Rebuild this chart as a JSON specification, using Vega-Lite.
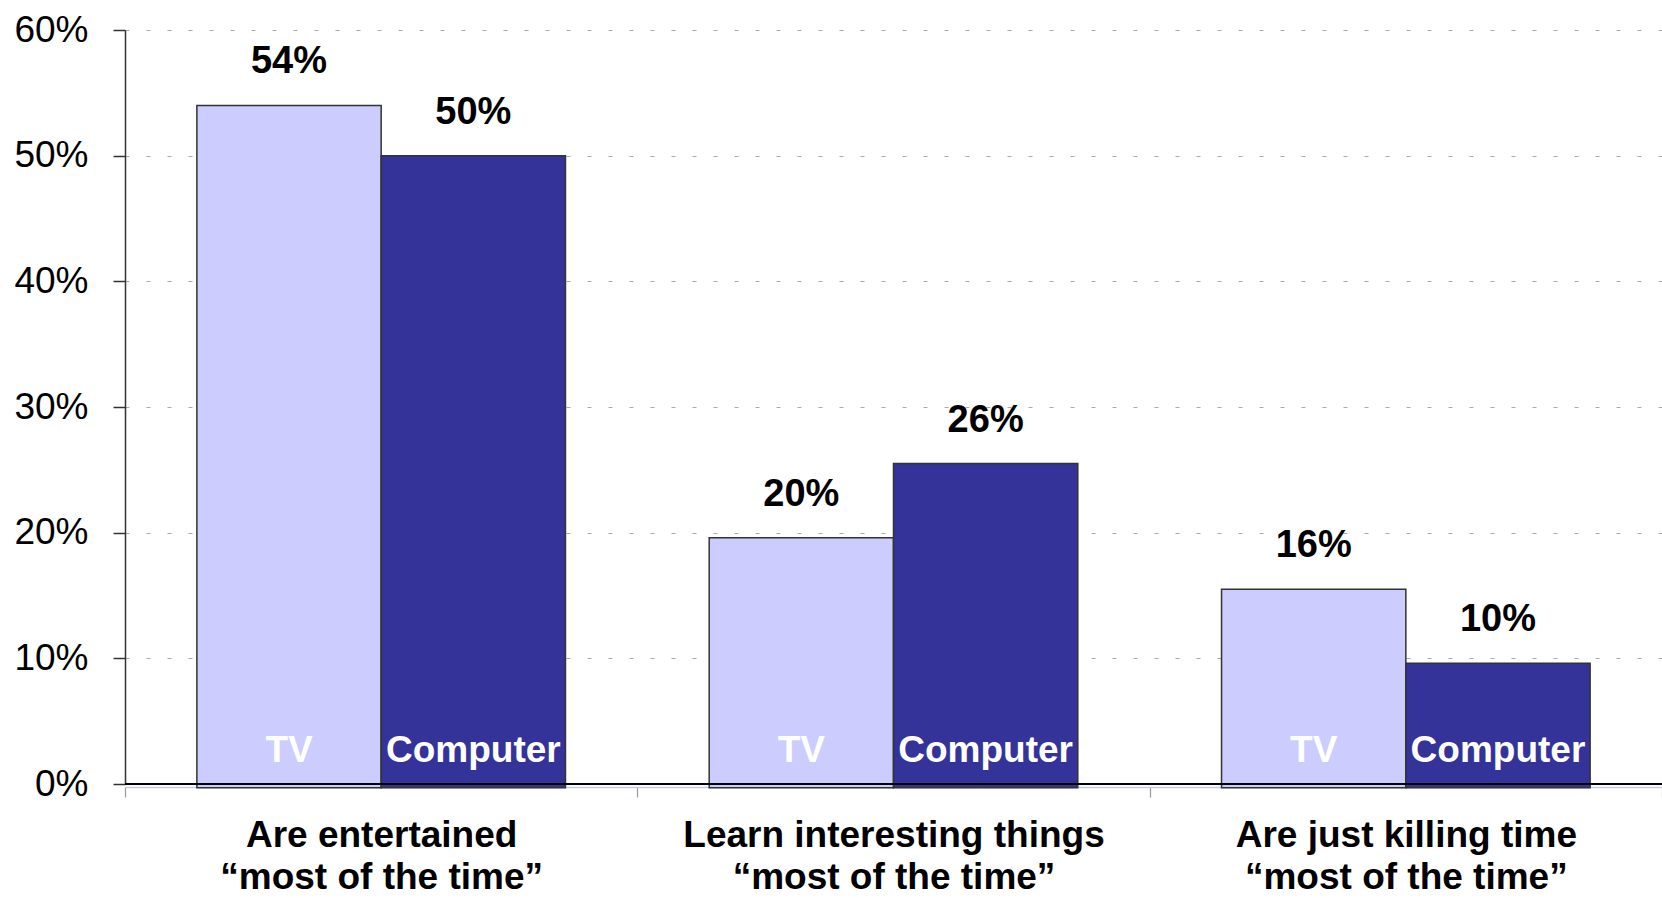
{
  "$schema": "https://vega.github.io/schema/vega-lite/v6.json",
  "width": 1537,
  "height": 754,
  "autosize": "none",
  "padding": {"left": 125, "top": 30, "right": 0, "bottom": 114},
  "background": "white",
  "config": {"view": {"stroke": null}, "font": "Liberation Sans"},
  "data": {
    "values": [
      {"category": "Are entertained", "medium": "TV", "value": 0.540, "label": "54%"},
      {"category": "Are entertained", "medium": "Computer", "value": 0.500, "label": "50%"},
      {"category": "Learn interesting things", "medium": "TV", "value": 0.196, "label": "20%"},
      {"category": "Learn interesting things", "medium": "Computer", "value": 0.255, "label": "26%"},
      {"category": "Are just killing time", "medium": "TV", "value": 0.155, "label": "16%"},
      {"category": "Are just killing time", "medium": "Computer", "value": 0.096, "label": "10%"}
    ]
  },
  "layer": [
    {
      "mark": {"type": "bar", "stroke": "#333333", "strokeWidth": 1.5},
      "encoding": {
        "x": {
          "field": "category", "type": "nominal",
          "sort": ["Are entertained", "Learn interesting things", "Are just killing time"],
          "scale": {"paddingInner": 0, "paddingOuter": 0},
          "axis": {
            "title": null, "orient": "bottom", "offset": 3,
            "domainColor": "#c8c8f0", "domainWidth": 1.5,
            "ticks": true, "tickBand": "extent", "tickColor": "#999999", "tickSize": 10, "tickWidth": 1.2,
            "labelAngle": 0, "labelFontWeight": "bold", "labelFontSize": 37, "labelColor": "black",
            "labelPadding": 20, "labelLineHeight": 42, "labelBaseline": "top", "labelLimit": 0,
            "labelExpr": "datum.label ? [datum.label, '“most of the time”'] : ''"
          }
        },
        "xOffset": {"field": "medium", "type": "nominal", "sort": ["TV", "Computer"], "scale": {"paddingOuter": 0.39, "paddingInner": 0}},
        "y": {
          "field": "value", "type": "quantitative",
          "scale": {"domain": [0, 0.6]},
          "axis": {
            "title": null, "values": [0, 0.1, 0.2, 0.3, 0.4, 0.5, 0.6], "format": ".0%",
            "labelFontSize": 37, "labelColor": "black", "labelPadding": 25,
            "domainColor": "#333333", "domainWidth": 1.5,
            "tickColor": "#333333", "tickSize": 12, "tickWidth": 1.5,
            "grid": true, "gridDash": [4, 17], "gridColor": "#aaaaaa", "gridWidth": 1.2
          }
        },
        "y2": {"datum": -0.003},
        "color": {"field": "medium", "type": "nominal", "scale": {"domain": ["TV", "Computer"], "range": ["#ccccff", "#333399"]}, "legend": null}
      }
    },
    {
      "mark": {"type": "text", "baseline": "alphabetic", "dy": -32, "fontWeight": "bold", "fontSize": 38, "color": "black"},
      "encoding": {
        "x": {"field": "category", "type": "nominal", "sort": ["Are entertained", "Learn interesting things", "Are just killing time"]},
        "xOffset": {"field": "medium", "type": "nominal", "sort": ["TV", "Computer"]},
        "y": {"field": "value", "type": "quantitative"},
        "text": {"field": "label"}
      }
    },
    {
      "mark": {"type": "text", "baseline": "alphabetic", "dy": -22, "fontWeight": "bold", "fontSize": 37, "color": "white"},
      "encoding": {
        "x": {"field": "category", "type": "nominal", "sort": ["Are entertained", "Learn interesting things", "Are just killing time"]},
        "xOffset": {"field": "medium", "type": "nominal", "sort": ["TV", "Computer"]},
        "y": {"datum": 0, "type": "quantitative"},
        "text": {"field": "medium"}
      }
    },
    {
      "mark": {"type": "rule", "color": "black", "strokeWidth": 2},
      "encoding": {"y": {"datum": 0, "type": "quantitative"}}
    }
  ]
}
